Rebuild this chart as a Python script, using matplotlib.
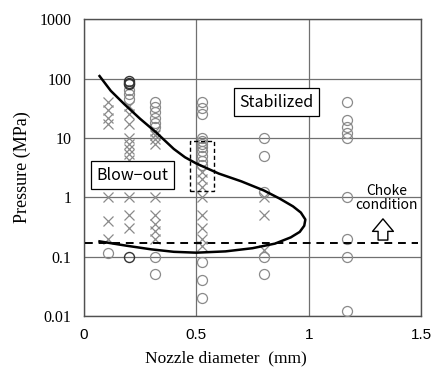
import numpy as np
import matplotlib
matplotlib.use('Agg')
import matplotlib.pyplot as plt
from matplotlib.patches import Rectangle

# nozzle diameters of the test columns (mm)
cols = [0.107, 0.2, 0.315, 0.525, 0.8, 1.17]

# stabilized (circles), pressure in MPa per column
circ_vals = [
    [0.115],
    [65, 55, 45],
    [40, 33, 27, 22, 18, 15, 0.1, 0.05],
    [40, 32, 25, 10, 9, 8, 7, 6, 5, 4, 3.5, 0.08, 0.04, 0.02],
    [10, 5, 1.2, 0.1, 0.05],
    [40, 20, 15, 12, 10, 1, 0.2, 0.1, 0.012],
]
# darker circles (x, p)
dark_x = [0.2, 0.2, 0.2, 0.2]
dark_y = [90, 85, 80, 0.1]

# blow-out (crosses)
cross_vals = [
    [40, 30, 22, 17, 1, 0.4, 0.2],
    [35, 25, 17, 10, 8, 6.5, 5.3, 4.3, 1, 0.5, 0.3],
    [13, 11, 9.5, 8, 1, 0.5, 0.35, 0.27, 0.2],
    [2.7, 2, 1.5, 1, 0.5, 0.3, 0.2, 0.15],
    [1, 0.5, 0.13],
    [],
]

# boundary curve
curve_x = [0.07, 0.12, 0.18, 0.25, 0.32, 0.40, 0.45, 0.50, 0.60, 0.70, 0.80, 0.87,
           0.93, 0.965, 0.985, 0.98, 0.96, 0.92, 0.85, 0.75, 0.63, 0.50, 0.40,
           0.30, 0.19, 0.07]
curve_y = [110, 62, 37, 21, 12.5, 6.5, 4.7, 3.7, 2.5, 1.85, 1.3, 0.95,
           0.7, 0.55, 0.42, 0.33, 0.26, 0.21, 0.165, 0.138, 0.122, 0.116, 0.12,
           0.132, 0.152, 0.18]

choke_p = 0.17

fig = plt.figure(figsize=(4.32, 3.76), dpi=100)
ax = fig.add_axes([0.194, 0.160, 0.781, 0.789])

gray = '#8a8a8a'
for c, vals in zip(cols, circ_vals):
    ax.plot([c]*len(vals), vals, 'o', mfc='none', mec=gray, ms=7.2, mew=0.9, zorder=3)
for c, vals in zip(cols, cross_vals):
    ax.plot([c]*len(vals), vals, 'x', color=gray, ms=7.5, mew=0.9, zorder=3)
ax.plot(dark_x, dark_y, 'o', mfc='none', mec='#333333', ms=7.2, mew=1.0, zorder=3)

ax.plot(curve_x, curve_y, color='black', lw=1.8, zorder=4)
ax.axhline(choke_p, xmin=0.005, xmax=0.99, color='black', lw=1.4, ls=(0, (4, 3)), zorder=4)

# dashed box around the 0.53 mm column
ax.add_patch(Rectangle((0.47, 1.25), 0.11, 8.8 - 1.25, fill=False, ec='black',
                       lw=1.0, ls=(0, (3, 2)), zorder=5))

jp = ['Noto Sans CJK JP', 'DejaVu Sans']
box = dict(boxstyle='square,pad=0.35', fc='white', ec='black', lw=0.9)
ax.text(0.857, 40, 'Stabilized', ha='center', va='center', fontsize=11.5,
        family=jp, bbox=box, zorder=6)
ax.text(0.218, 2.35, 'Blow\u2212out', ha='center', va='center', fontsize=11.5,
        family=jp, bbox=box, zorder=6)
ax.text(1.345, 0.95, 'Choke\ncondition', ha='center', va='center', fontsize=10,
        family=jp, linespacing=1.0, zorder=6)
ax.annotate('', xy=(1.33, 0.48), xytext=(1.33, choke_p),
            arrowprops=dict(arrowstyle='simple,head_width=1.5,head_length=0.9,tail_width=0.7',
                            fc='white', ec='black', lw=1.0), zorder=6)

ax.set_yscale('log')
ax.set_xlim(0, 1.5)
ax.set_ylim(0.01, 1000)
ax.set_xticks([0, 0.5, 1, 1.5])
ax.set_xticklabels(['0', '0.5', '1', '1.5'], family='Liberation Sans', fontsize=11)
ax.set_yticks([0.01, 0.1, 1, 10, 100, 1000])
ax.set_yticklabels(['0.01', '0.1', '1', '10', '100', '1000'], family='Liberation Serif', fontsize=11.5)
ax.minorticks_off()
ax.tick_params(length=0, pad=9)
ax.grid(True, color='#707070', lw=0.9)
ax.set_axisbelow(True)
for s in ax.spines.values():
    s.set_color('#505050')
    s.set_linewidth(1.0)

ax.set_xlabel('Nozzle diameter  (mm)', family='Liberation Serif', fontsize=12.5)
ax.xaxis.set_label_coords(0.42, -0.142)
ax.xaxis.label.set_va('center')
ax.set_ylabel('Pressure (MPa)', family='Liberation Serif', fontsize=13, labelpad=6)

fig.savefig('out.png', dpi=100)
